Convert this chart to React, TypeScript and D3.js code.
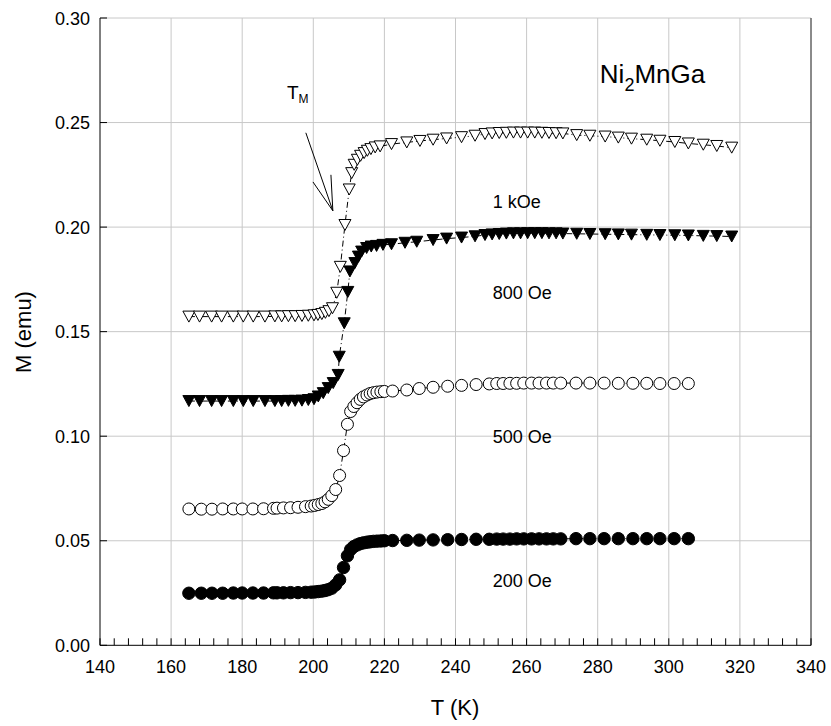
import React from "react";
import * as d3 from "d3";

// ---- data ----
const T_1kOe = [165, 168, 171.4, 174.2, 177.5, 180.3, 183.1, 186.4, 189.2, 191.1, 193, 194.9, 196.8, 198.6, 200.2, 201.3, 202.4, 203.4, 204.4, 205.4, 206.6, 207.6, 208.9, 210.1, 210.8, 211.5, 212.4, 213.3, 214.3, 215.2, 216.2, 217.4, 218.8, 222, 226.3, 230, 233.7, 237.5, 241.7, 245.5, 248.3, 250.3, 252.3, 254.3, 256.3, 258.3, 260.3, 262.3, 264.3, 266.3, 268.3, 270.2, 274.1, 277.8, 282.1, 285.8, 289.5, 293.8, 297.5, 301.7, 305.5, 309.7, 313.5, 317.7];
const M_1kOe = [0.1572, 0.1572, 0.1572, 0.1572, 0.1572, 0.1572, 0.1572, 0.1572, 0.1573, 0.1573, 0.1574, 0.1574, 0.1575, 0.1576, 0.1578, 0.158, 0.1584, 0.159, 0.1598, 0.1612, 0.1686, 0.181, 0.201, 0.218, 0.2258, 0.2298, 0.2322, 0.2341, 0.2354, 0.2365, 0.2373, 0.2381, 0.2386, 0.2397, 0.2405, 0.2412, 0.2418, 0.2424, 0.243, 0.2437, 0.2445, 0.2448, 0.245, 0.2451, 0.2452, 0.2452, 0.2452, 0.2452, 0.2451, 0.245, 0.2449, 0.2448, 0.244, 0.2437, 0.2433, 0.2428, 0.2423, 0.2418, 0.2413, 0.2407, 0.24, 0.2394, 0.2388, 0.238];

const T_800Oe = [165, 168, 171.4, 174.2, 177.5, 180.3, 183.1, 186.4, 189.2, 191.1, 193, 194.9, 196.8, 198.6, 200.2, 201.4, 202.8, 204.2, 205.6, 207.0, 207.3, 208.7, 209.7, 210.3, 211.7, 212.7, 213.6, 215.0, 216.3, 217.8, 219.6, 222, 225.8, 229.1, 233.7, 237.5, 241.7, 245.5, 248.3, 250.3, 252.3, 254.3, 256.3, 258.3, 260.3, 262.3, 264.3, 266.3, 268.3, 270.2, 274.1, 277.8, 282.1, 285.8, 289.5, 293.8, 297.5, 301.7, 305.5, 309.7, 313.5, 317.7];
const M_800Oe = [0.1168, 0.1168, 0.1168, 0.1168, 0.1168, 0.1168, 0.1168, 0.1168, 0.1168, 0.1168, 0.1169, 0.1169, 0.117, 0.1173, 0.1177, 0.119, 0.1206, 0.123, 0.1254, 0.1293, 0.138, 0.154, 0.169, 0.1788, 0.1828, 0.1859, 0.1883, 0.19, 0.1907, 0.191, 0.1915, 0.1918, 0.1925, 0.193, 0.1938, 0.1945, 0.195, 0.1956, 0.1962, 0.1965, 0.1967, 0.1969, 0.197, 0.197, 0.1971, 0.1971, 0.1971, 0.197, 0.197, 0.1969, 0.1968, 0.1967, 0.1966, 0.1965, 0.1964, 0.1963, 0.1962, 0.1961, 0.196, 0.1958, 0.1957, 0.1955];

const T_circ = [165, 168.5, 171.5, 174.5, 177.5, 180, 183, 186, 188.8, 189.8, 191.6, 193.6, 195.7, 197.8, 199.4, 200.4, 201.4, 202.4, 203.3, 204.2, 205.2, 206.3, 207.4, 208.5, 209.6, 210.5, 211.4, 212.3, 213.2, 214.1, 215.1, 216.0, 216.9, 217.9, 219.0, 220.0, 222.3, 226.3, 229.8, 233.7, 237.8, 241.7, 245.8, 249.5, 251.6, 253.4, 255.3, 257.2, 259.2, 261.4, 263.5, 265.6, 267.5, 269.6, 273.9, 277.8, 281.8, 285.8, 289.9, 293.8, 297.5, 301.5, 305.5];
const M_500Oe = [0.0652, 0.0651, 0.0651, 0.0652, 0.0652, 0.0652, 0.0652, 0.0653, 0.0655, 0.0656, 0.0657, 0.0658, 0.066, 0.0663, 0.0666, 0.0669, 0.0673, 0.0678, 0.0686, 0.0698, 0.0716, 0.0745, 0.0812, 0.0931, 0.1057, 0.1118, 0.1142, 0.116, 0.1176, 0.1188, 0.1197, 0.1204, 0.1208, 0.1211, 0.1213, 0.1214, 0.1216, 0.1221, 0.1228, 0.1234, 0.1239, 0.1243, 0.1247, 0.125, 0.1252, 0.1252, 0.1253, 0.1253, 0.1254, 0.1254, 0.1254, 0.1254, 0.1254, 0.1254, 0.1254, 0.1254, 0.1254, 0.1253, 0.1253, 0.1253, 0.1252, 0.1252, 0.1252];
const M_200Oe = [0.0249, 0.0249, 0.0249, 0.0249, 0.025, 0.025, 0.025, 0.025, 0.0251, 0.0251, 0.0251, 0.0252, 0.0252, 0.0253, 0.0254, 0.0255, 0.0257, 0.0259, 0.0262, 0.0266, 0.0273, 0.0289, 0.0313, 0.0372, 0.0428, 0.0458, 0.0472, 0.048, 0.0486, 0.049, 0.0493, 0.0495, 0.0497, 0.0498, 0.0499, 0.05, 0.0501, 0.0502, 0.0503, 0.0504, 0.0505, 0.0506, 0.0507, 0.0507, 0.0508, 0.0508, 0.0508, 0.0509, 0.0509, 0.0509, 0.0509, 0.0509, 0.0509, 0.0509, 0.051, 0.051, 0.051, 0.051, 0.051, 0.051, 0.051, 0.051, 0.051];

const xTicks = [140, 160, 180, 200, 220, 240, 260, 280, 300, 320, 340];
const yTicks = [0.0, 0.05, 0.1, 0.15, 0.2, 0.25, 0.3];
const fieldLabels = ["1 kOe", "800 Oe", "500 Oe", "200 Oe"];
const fieldLabelM = [0.2092, 0.1657, 0.0968, 0.0279];
const fieldLabelT = 250.5;

// annotation (data units)
const arrowLine = [[197.9, 0.2451], [205.5, 0.2078]];
const arrowHeadA = [199.9, 0.2216];
const arrowHeadB = [204.96, 0.225];

const FONT = "'Liberation Sans', Arial, Helvetica, sans-serif";

export default function App() {
  const W = 831, H = 726;
  const x = d3.scaleLinear().domain([140, 340]).range([100, 811]);
  const y = d3.scaleLinear().domain([0, 0.3]).range([645.3, 18]);
  const minorTicks = d3.range(140, 341, 4);

  const line = (T: number[], M: number[]) =>
    d3.line<number>().x((_, i) => x(T[i])).y((m) => y(m))(M) || "";

  const tri = (cx: number, cy: number, w = 12, h = 11) =>
    `M${cx - w / 2},${cy - h / 2}L${cx + w / 2},${cy - h / 2}L${cx},${cy + h / 2}Z`;

  const dash = "6,3,1,3";

  return (
    <div style={{ position: "absolute", left: 0, top: 0 }}>
      <svg width={W} height={H} style={{ display: "block", background: "#fff" }} fontFamily={FONT}>
        {/* grid */}
        {xTicks.slice(1).map((t) => (
          <line key={"gx" + t} x1={x(t)} x2={x(t)} y1={y(0)} y2={y(0.3)} stroke="#c8c8c8" strokeWidth={1} />
        ))}
        {yTicks.slice(1).map((t) => (
          <line key={"gy" + t} x1={x(140)} x2={x(340)} y1={y(t)} y2={y(t)} stroke="#c8c8c8" strokeWidth={1} />
        ))}
        {/* right border */}
        <line x1={x(340)} x2={x(340)} y1={y(0)} y2={y(0.3)} stroke="#333" strokeWidth={1} />
        {/* axes */}
        <line x1={x(140)} x2={x(140)} y1={y(0)} y2={y(0.3)} stroke="#000" strokeWidth={1} />
        <line x1={x(140)} x2={x(340)} y1={y(0)} y2={y(0)} stroke="#000" strokeWidth={1} />
        {minorTicks.map((t) => (
          <line key={"mt" + t} x1={x(t)} x2={x(t)} y1={y(0)} y2={y(0) - 7} stroke="#000" strokeWidth={1} />
        ))}
        {yTicks.map((t) => (
          <line key={"yt" + t} x1={x(140)} x2={x(140) + 7} y1={y(t)} y2={y(t)} stroke="#000" strokeWidth={1} />
        ))}
        {/* tick labels */}
        {xTicks.map((t) => (
          <text key={"xl" + t} x={x(t)} y={673} fontSize={18} textAnchor="middle" fill="#000">{t}</text>
        ))}
        {yTicks.map((t) => (
          <text key={"yl" + t} x={90} y={y(t) + 6.5} fontSize={18} textAnchor="end" fill="#000">{t.toFixed(2)}</text>
        ))}
        {/* axis titles */}
        <text x={455} y={715} fontSize={22} textAnchor="middle">T (K)</text>
        <text transform="translate(31,332) rotate(-90)" fontSize={22} textAnchor="middle">M (emu)</text>

        {/* series lines */}
        <path d={line(T_1kOe, M_1kOe)} fill="none" stroke="#000" strokeWidth={1} strokeDasharray={dash} />
        <path d={line(T_800Oe, M_800Oe)} fill="none" stroke="#000" strokeWidth={1} strokeDasharray={dash} />
        <path d={line(T_circ, M_500Oe)} fill="none" stroke="#000" strokeWidth={1} strokeDasharray={dash} />
        <path d={line(T_circ, M_200Oe)} fill="none" stroke="#000" strokeWidth={1} strokeDasharray={dash} />

        {/* markers */}
        {M_1kOe.map((m, i) => (
          <path key={"a" + i} d={tri(x(T_1kOe[i]), y(m))} fill="#fff" stroke="#000" strokeWidth={1} />
        ))}
        {M_800Oe.map((m, i) => (
          <path key={"b" + i} d={tri(x(T_800Oe[i]), y(m))} fill="#000" stroke="#000" strokeWidth={1} />
        ))}
        {M_500Oe.map((m, i) => (
          <circle key={"c" + i} cx={x(T_circ[i])} cy={y(m)} r={6} fill="#fff" stroke="#000" strokeWidth={1} />
        ))}
        {M_200Oe.map((m, i) => (
          <circle key={"d" + i} cx={x(T_circ[i])} cy={y(m)} r={6.2} fill="#000" stroke="#000" strokeWidth={1} />
        ))}

        {/* annotations */}
        <line x1={x(arrowLine[0][0])} y1={y(arrowLine[0][1])} x2={x(arrowLine[1][0])} y2={y(arrowLine[1][1])} stroke="#000" strokeWidth={1} />
        <line x1={x(arrowHeadA[0])} y1={y(arrowHeadA[1])} x2={x(arrowLine[1][0])} y2={y(arrowLine[1][1])} stroke="#000" strokeWidth={1} />
        <line x1={x(arrowHeadB[0])} y1={y(arrowHeadB[1])} x2={x(arrowLine[1][0])} y2={y(arrowLine[1][1])} stroke="#000" strokeWidth={1} />
        <text x={x(192.6)} y={y(0.2614)} fontSize={19}>
          T<tspan fontSize={12} dy={4}>M</tspan>
        </text>
        <text x={x(280.6)} y={y(0.269)} fontSize={26}>
          Ni<tspan fontSize={18} dy={8}>2</tspan><tspan dy={-8}>MnGa</tspan>
        </text>
        {fieldLabels.map((l, i) => (
          <text key={l} x={x(fieldLabelT)} y={y(fieldLabelM[i])} fontSize={18}>{l}</text>
        ))}
      </svg>
    </div>
  );
}
